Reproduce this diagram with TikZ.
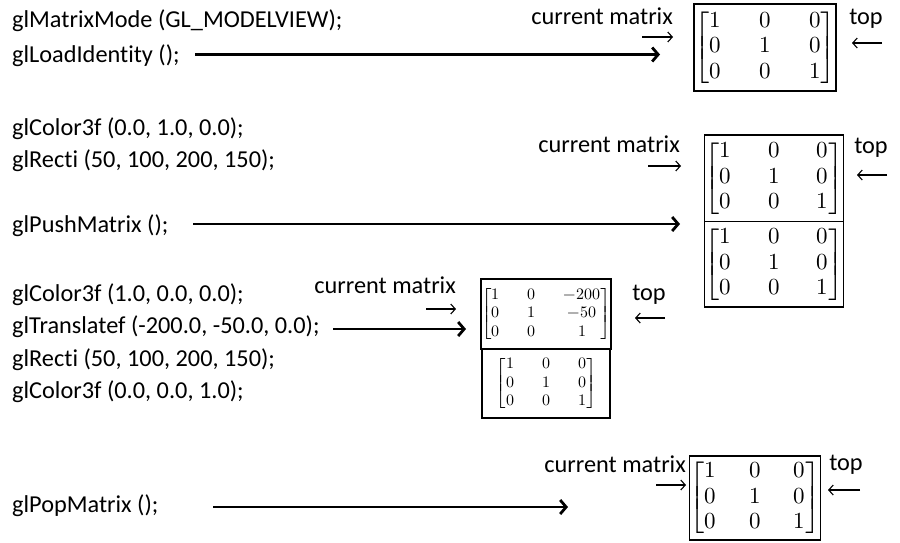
\documentclass[tikz,border=0pt]{standalone}
\usepackage{amsmath}
\usepackage{fontspec}
\usepackage{unicode-math}
\setmainfont{Carlito}[Ligatures=NoCommon]
\setmathfont{Latin Modern Math}
\usetikzlibrary{arrows.meta}
\newcommand{\idmat}[3]{{\fontsize{#1}{#2}\selectfont\setlength\arraycolsep{#3}$\begin{bmatrix}1&0&0\\0&1&0\\0&0&1\end{bmatrix}$}}
\newcommand{\trmat}[3]{{\fontsize{#1}{#2}\selectfont\setlength\arraycolsep{#3}$\begin{bmatrix}1&0&-200\\0&1&-50\\0&0&1\end{bmatrix}$}}
\begin{document}
\begin{tikzpicture}[x=1pt,y=-1pt,
  code/.style={anchor=base west, inner sep=0pt, font=\fontsize{24.3}{28}\selectfont},
  lbl/.style={inner sep=0pt, anchor=base, font=\fontsize{24.3}{28}\selectfont},
  sarrow/.style={line width=1.1pt, -{Straight Barb[length=4.5pt,width=10pt,line width=1.1pt]}},
  callarrow/.style={line width=2.8pt, -{Straight Barb[length=6pt,width=14pt,line width=2.8pt]}},
  mbox/.style={draw, line width=1.6pt, inner sep=0pt, minimum width=#1},
]
\useasboundingbox (0,0) rectangle (900,542);
% code lines
\node[code] (c1) at (12,27.5) {glMatrixMode (GL\_MODELVIEW);};
\node[code] (c2) at (12,62) {glLoadIdentity ();};
\node[code] (c3) at (12,135) {glColor3f (0.0, 1.0, 0.0);};
\node[code] (c4) at (12,167) {glRecti (50, 100, 200, 150);};
\node[code] (c5) at (12,232) {glPushMatrix ();};
\node[code] (c6) at (12,301.5) {glColor3f (1.0, 0.0, 0.0);};
\node[code] (c7) at (12,333.5) {glTranslatef (-200.0, -50.0, 0.0);};
\node[code] (c8) at (12,366) {glRecti (50, 100, 200, 150);};
\node[code] (c9) at (12,398) {glColor3f (0.0, 0.0, 1.0);};
\node[code] (c10) at (12,512) {glPopMatrix ();};

% boxes
\node[mbox=136pt, minimum height=87pt] (b1) at (765,47.5) {\idmat{23}{25.5}{19.2pt}};
\node[mbox=136pt, minimum height=86.5pt] (b2t) at (774,178.25) {\idmat{23}{25.5}{18.5pt}};
\node[mbox=136pt, minimum height=85.5pt] (b2b) at (774,264.25) {\idmat{23}{25.5}{18.5pt}};
\node[mbox=128pt, minimum height=70pt] (b3t) at (546,314) {\trmat{16}{18.5}{14pt}};
\node[mbox=128pt, minimum height=69pt] (b3b) at (546,383.5) {\idmat{16}{18.5}{14pt}};
\node[mbox=124pt, minimum height=84pt] (b4) at (755,498) {\idmat{23}{25.5}{16.5pt}};

% labels
\node[lbl, anchor=base east] (cm1) at (673,24) {current matrix};
\node[lbl] (tp1) at (866,24) {top};
\node[lbl, anchor=base east] (cm2) at (680,152) {current matrix};
\node[lbl] (tp2) at (871,153) {top};
\node[lbl, anchor=base east] (cm3) at (456,293) {current matrix};
\node[lbl] (tp3) at (649,300) {top};
\node[lbl, anchor=base east] (cm4) at (686,472) {current matrix};
\node[lbl] (tp4) at (846,470) {top};

% small pointer arrows
\coordinate (p1a) at (642,37);  \coordinate (p1b) at (673,37);
\coordinate (q1a) at (882,43);  \coordinate (q1b) at (852,43);
\coordinate (p2a) at (648,166); \coordinate (p2b) at (681,166);
\coordinate (q2a) at (887,175); \coordinate (q2b) at (857,175);
\coordinate (p3a) at (426,309); \coordinate (p3b) at (456,309);
\coordinate (q3a) at (665,318); \coordinate (q3b) at (635,318);
\coordinate (p4a) at (656,485); \coordinate (p4b) at (686,485);
\coordinate (q4a) at (860,490); \coordinate (q4b) at (828,490);
\foreach \s/\e in {p1a/p1b,q1a/q1b,p2a/p2b,q2a/q2b,p3a/p3b,q3a/q3b,p4a/p4b,q4a/q4b}
  \draw[sarrow] (\s) -- (\e);

% call arrows
\coordinate (a1s) at (195,54.5); \coordinate (a1e) at (660,54.5);
\coordinate (a2s) at (193,224); \coordinate (a2e) at (680,224);
\coordinate (a3s) at (333,329); \coordinate (a3e) at (466,329);
\coordinate (a4s) at (213,507); \coordinate (a4e) at (568,507);
\draw[callarrow] (a1s) -- (a1e);
\draw[callarrow] (a2s) -- (a2e);
\draw[callarrow] (a3s) -- (a3e);
\draw[callarrow] (a4s) -- (a4e);
\end{tikzpicture}
\end{document}
